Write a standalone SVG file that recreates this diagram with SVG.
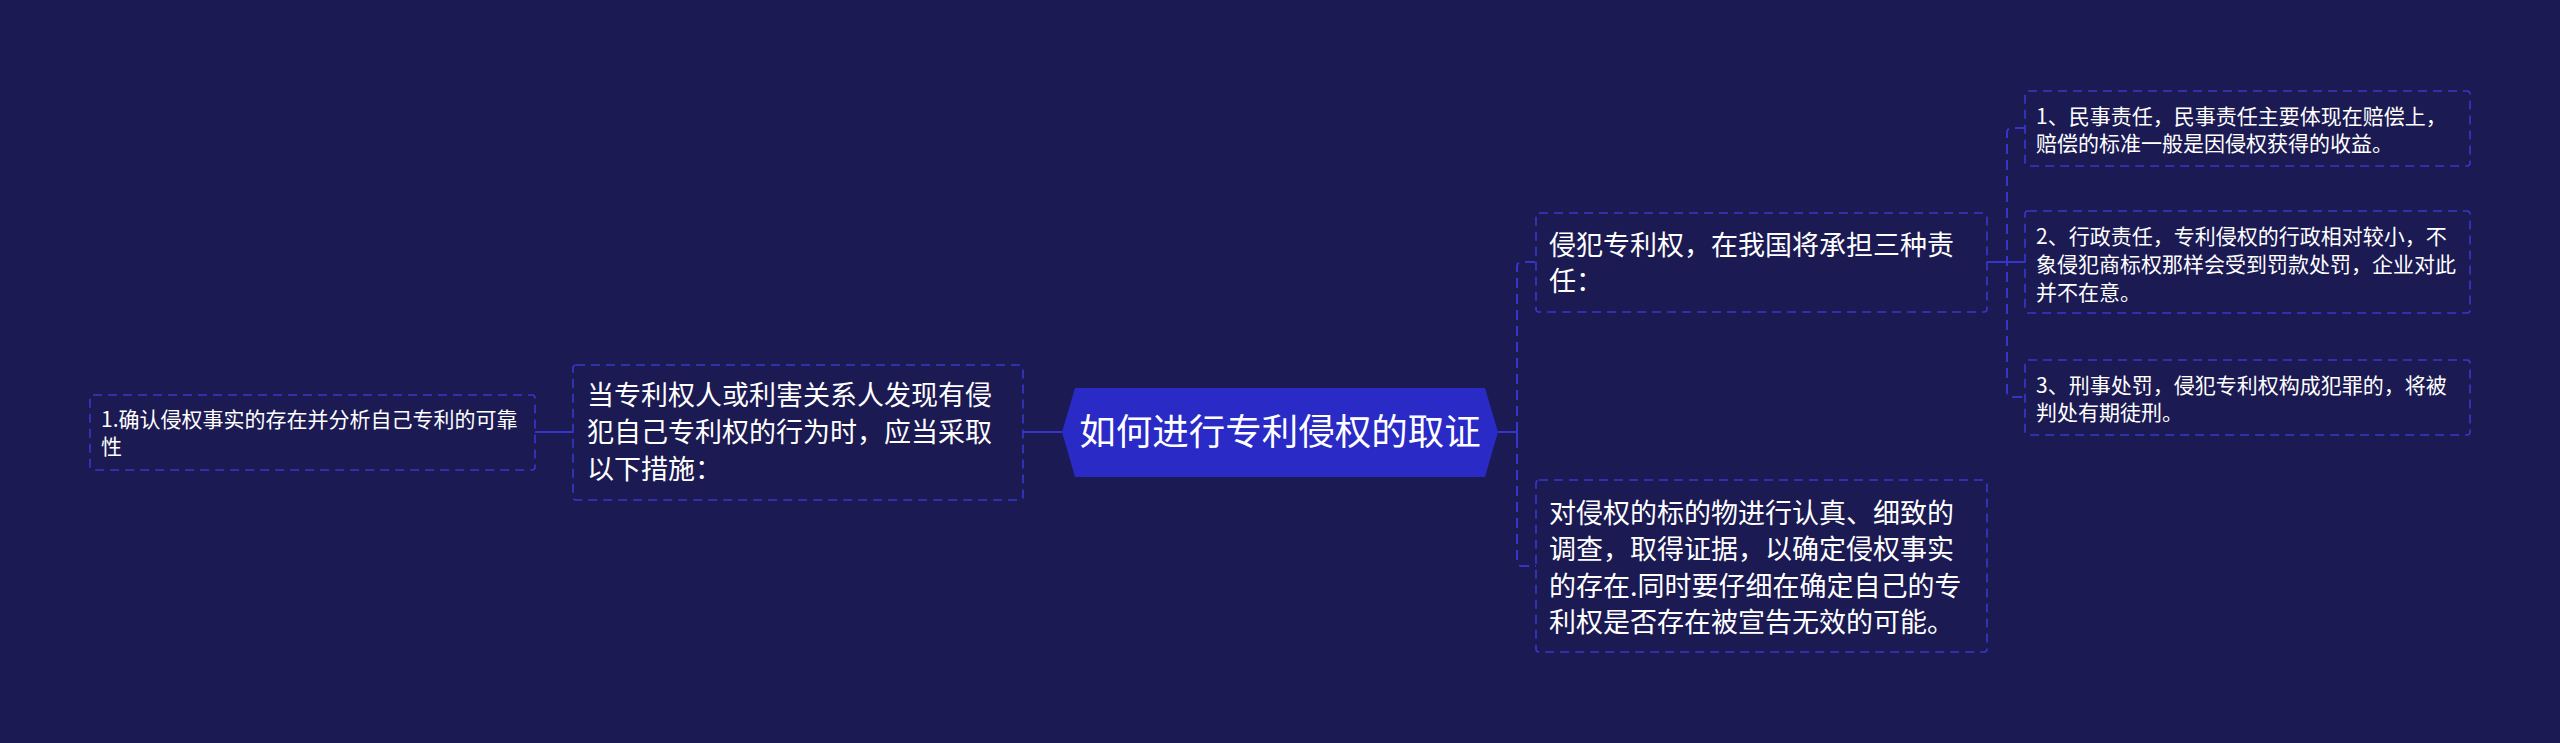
<svg xmlns="http://www.w3.org/2000/svg" width="2560" height="743" viewBox="0 0 2560 743">
<style>
.bg{fill:#1b1a52}
.box{fill:#1b1a52;stroke:#3838cc;stroke-width:1.6;stroke-dasharray:9 6}
.t{fill:#ffffff;font-family:"Noto Sans CJK SC","Noto Sans",sans-serif}
.conn{fill:none;stroke:#3535cc;stroke-width:2}
.dash{fill:none;stroke:#3535cc;stroke-width:2;stroke-dasharray:10 6}
</style>
<rect class="bg" x="0" y="0" width="2560" height="743"/>
<g id="connectors">
  <path class="conn" d="M535 432 H573"/>
  <path class="conn" d="M1023 432 H1062"/>
  <path class="conn" d="M1498 432 H1517 M1517 426 V438"/>
  <path class="dash" d="M1535 262 H1522 Q1517 262 1517 267 V561 Q1517 566 1522 566 H1537"/>
  <path class="conn" d="M1987 262 H2025"/>
  <path class="dash" d="M2025 128 H2012 Q2007 128 2007 133 V392 Q2007 397 2012 397 H2025"/>
</g>
<g id="root">
  <polygon points="1062,432 1075,388 1485,388 1498,432 1485,477 1075,477" fill="#2a2ac6"/>
  <text class="t" x="1280" y="445" font-size="36.5" text-anchor="middle">如何进行专利侵权的取证</text>
</g>
<g id="left1">
  <rect class="box" x="573" y="365" width="450" height="135" rx="3"/>
  <text class="t" font-size="27"><tspan x="587" y="405">当专利权人或利害关系人发现有侵</tspan><tspan x="587" y="442">犯自己专利权的行为时，应当采取</tspan><tspan x="587" y="479">以下措施：</tspan></text>
</g>
<g id="left2">
  <rect class="box" x="90" y="395" width="445" height="75" rx="3"/>
  <text class="t" font-size="21"><tspan x="101" y="427">1.确认侵权事实的存在并分析自己专利的可靠</tspan><tspan x="101" y="454">性</tspan></text>
</g>
<g id="right1">
  <rect class="box" x="1536" y="213" width="451" height="99" rx="3"/>
  <text class="t" font-size="27"><tspan x="1549" y="255">侵犯专利权，在我国将承担三种责</tspan><tspan x="1549" y="291">任：</tspan></text>
</g>
<g id="right2">
  <rect class="box" x="1536" y="480" width="451" height="172" rx="3"/>
  <text class="t" font-size="27"><tspan x="1549" y="523">对侵权的标的物进行认真、细致的</tspan><tspan x="1549" y="559">调查，取得证据，以确定侵权事实</tspan><tspan x="1549" y="596">的存在.同时要仔细在确定自己的专</tspan><tspan x="1549" y="632">利权是否存在被宣告无效的可能。</tspan></text>
</g>
<g id="r1a">
  <rect class="box" x="2025" y="91" width="445" height="75" rx="3"/>
  <text class="t" font-size="21"><tspan x="2036" y="124">1、民事责任，民事责任主要体现在赔偿上，</tspan><tspan x="2036" y="151">赔偿的标准一般是因侵权获得的收益。</tspan></text>
</g>
<g id="r1b">
  <rect class="box" x="2025" y="211" width="445" height="102" rx="3"/>
  <text class="t" font-size="21"><tspan x="2036" y="244">2、行政责任，专利侵权的行政相对较小，不</tspan><tspan x="2036" y="272">象侵犯商标权那样会受到罚款处罚，企业对此</tspan><tspan x="2036" y="300">并不在意。</tspan></text>
</g>
<g id="r1c">
  <rect class="box" x="2025" y="360" width="445" height="75" rx="3"/>
  <text class="t" font-size="21"><tspan x="2036" y="393">3、刑事处罚，侵犯专利权构成犯罪的，将被</tspan><tspan x="2036" y="420">判处有期徒刑。</tspan></text>
</g>
</svg>
